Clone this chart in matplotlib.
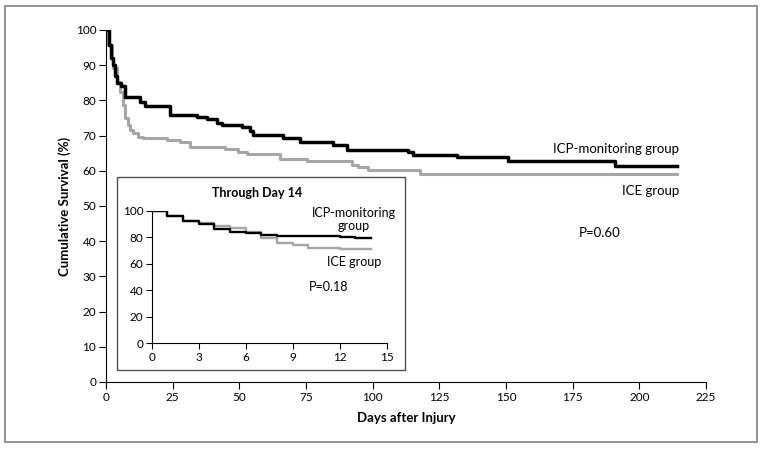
import matplotlib.pyplot as plt
from matplotlib.patches import Rectangle

plt.rcParams['font.family'] = ['Lato', 'DejaVu Sans']

# Kaplan-Meier curves, full follow-up (days, % surviving)
icp_days = [0, 1, 2, 2.75, 3.5, 4, 5.5, 7, 12.75, 14.6, 24, 34, 37.75, 41.5, 43.4,
            50.9, 54, 55.25, 66.5, 72.75, 85, 90.25, 113.4, 115, 131.5, 150.9, 190.9, 214]
icp_surv = [100, 95.6, 92, 90, 87, 85, 84, 80.9, 79.6, 78.4, 75.9, 75.2, 74.6, 73.7, 73,
            72.5, 71.4, 70.2, 69.2, 68.3, 67.2, 65.8, 65.2, 64.5, 63.8, 62.9, 61.4, 61.4]
ice_days = [0, 0.5, 2.1, 2.75, 4, 5.25, 6.5, 7.1, 8.4, 9, 10.25, 12.1, 14, 22.75, 27.75,
            31.5, 44.6, 49.6, 52.75, 65.25, 75.25, 92.1, 94.6, 98.4, 117.75, 214]
ice_surv = [100, 95.7, 92, 89.1, 85.3, 82.5, 78.7, 74.9, 73, 71.6, 70.6, 69.7, 69.2, 68.8, 68.1,
            66.9, 66.2, 65.4, 64.8, 63.4, 62.9, 61.6, 61, 60.1, 59.1, 59.1]

# through day 14
icp14_days = [0, 1, 2, 3, 4, 5, 6, 7, 8, 12, 13, 14]
icp14_surv = [100, 96.2, 92.4, 89.7, 86.1, 84.1, 82.9, 81.6, 80.7, 79.9, 79.4, 79.4]
ice14_days = [0, 1, 2, 3, 4, 5, 6, 7, 8, 9, 10, 12, 14]
ice14_surv = [100, 96.2, 92.4, 90.4, 88.4, 86.6, 84.1, 79.1, 75.8, 74.1, 72, 71, 71]

gray = '#a6a6a6'
W, H = 764, 449
fig = plt.figure(figsize=(W / 100, H / 100), dpi=100)

# outer frame
fig.patches.append(Rectangle((5 / W, 1 - 442 / H), 752 / W, 436 / H, transform=fig.transFigure,
                             fill=False, edgecolor='#808080', linewidth=1.2))

ax = fig.add_axes([106 / W, 1 - 382 / H, 600 / W, 352 / H])
ax.plot(ice_days, ice_surv, drawstyle='steps-post', color=gray, lw=2.2)
ax.plot(icp_days, icp_surv, drawstyle='steps-post', color='black', lw=2.5)
ax.set_xlim(0, 225)
ax.set_ylim(0, 100)
ax.set_xticks(range(0, 226, 25))
ax.set_yticks(range(0, 101, 10))
ax.spines[['top', 'right']].set_visible(False)
ax.tick_params(direction='out', length=5, width=0.8, labelsize=8.5, pad=2)
ax.set_xlabel('Days after Injury', fontsize=9.5, fontweight='bold', labelpad=7)
ax.set_ylabel('Cumulative Survival (%)', fontsize=9.5, fontweight='bold', labelpad=3)
ax.text(215, 66.1, 'ICP-monitoring group', ha='right', va='center', fontsize=9.5)
ax.text(215, 54.3, 'ICE group', ha='right', va='center', fontsize=9.5)
ax.text(185, 42.4, 'P=0.60', ha='center', va='center', fontsize=9.5)

# inset box
fig.patches.append(Rectangle((117 / W, 1 - 370 / H), 288 / W, 193 / H, transform=fig.transFigure,
                             fill=True, facecolor='white', edgecolor='#505050', linewidth=1.0,
                             zorder=2))
fig.text(256.7 / W, 1 - 192.7 / H, 'Through Day 14', ha='center', va='center',
         fontsize=9, fontweight='bold', zorder=4)

ins = fig.add_axes([151.7 / W, 1 - 343.3 / H, 235 / W, 132.6 / H], zorder=3)
ins.patch.set_alpha(0)
ins.plot(ice14_days, ice14_surv, drawstyle='steps-post', color=gray, lw=1.7)
ins.plot(icp14_days, icp14_surv, drawstyle='steps-post', color='black', lw=1.7)
ins.set_xlim(0, 15)
ins.set_ylim(0, 100)
ins.set_xticks(range(0, 16, 3))
ins.set_yticks(range(0, 101, 20))
ins.spines[['top', 'right']].set_visible(False)
ins.tick_params(direction='out', length=4, width=0.8, labelsize=8.5, pad=2)
ins.text(12.9, 93.5, 'ICP-monitoring\ngroup', ha='center', va='center', fontsize=9,
         linespacing=1.05)
ins.text(12.9, 61.5, 'ICE group', ha='center', va='center', fontsize=9)
ins.text(11.3, 42.4, 'P=0.18', ha='center', va='center', fontsize=9)

fig.savefig('out.png', dpi=100)
